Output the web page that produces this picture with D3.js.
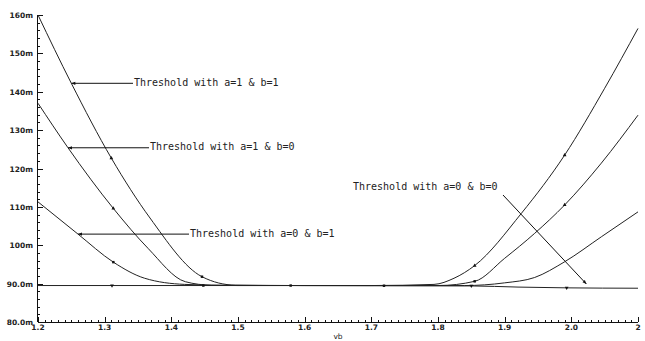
<!DOCTYPE html>
<html>
<head>
<meta charset="utf-8">
<script src="https://cdn.jsdelivr.net/npm/d3@7"></script>
<style>
  body { margin: 0; background: #fff; }
  svg { display: block; }
  .tick-label { font-family: "DejaVu Sans", sans-serif; font-size: 7.5px; font-weight: bold; fill: #222; }
  .note { font-family: "DejaVu Sans Mono", monospace; font-size: 10px; fill: #222; }
</style>
</head>
<body>
<svg id="chart" width="645" height="341"></svg>
<script>
// threshold curves (vb in V, threshold in mV)
var xA = [1.2, 1.25, 1.31, 1.368, 1.446, 1.496, 1.6, 1.7, 1.794, 1.824, 1.855, 1.925, 1.99, 2.05, 2.1];
var yA = [160, 142.2, 122.7, 107.1, 91.8, 89.6, 89.5, 89.5, 89.8, 91.4, 94.7, 108.3, 123.5, 140.9, 156.5];

var xB = [1.2, 1.245, 1.313, 1.365, 1.421, 1.46, 1.6, 1.7, 1.8, 1.855, 1.9, 1.945, 1.99, 2.045, 2.1];
var yB = [137.0, 125.4, 109.6, 99.2, 90.5, 89.6, 89.5, 89.5, 89.5, 90.6, 96.6, 103.1, 110.5, 121.4, 133.9];

var xC = [1.2, 1.26, 1.313, 1.36, 1.42, 1.5, 1.7, 1.84, 1.9, 1.945, 1.99, 2.045, 2.1];
var yC = [111.3, 102.9, 95.6, 91.4, 89.8, 89.5, 89.5, 89.5, 90.2, 91.6, 95.7, 102.2, 108.7];

var xD = [1.2, 1.311, 1.448, 1.579, 1.719, 1.85, 1.92, 1.993, 2.1];
var yD = [89.5, 89.5, 89.5, 89.5, 89.45, 89.4, 89.1, 88.9, 88.8];

// marker indices and shapes on each curve
var markA = [[2, "tri"], [4, "sq"], [10, "tri"], [12, "tri"]];
var markB = [[2, "tri"], [9, "sq"], [12, "tri"]];
var markC = [[2, "sq"]];
var markD = [[1, "trid"], [2, "sq"], [3, "sq"], [4, "sq"], [5, "trid"], [7, "trid"]];

var xTicks = [1.2, 1.3, 1.4, 1.5, 1.6, 1.7, 1.8, 1.9, 2.0, 2.1];
var xTickLabels = ["1.2", "1.3", "1.4", "1.5", "1.6", "1.7", "1.8", "1.9", "2.0", "2"];
var yTicks = [80, 90, 100, 110, 120, 130, 140, 150, 160];
var yTickLabels = ["80.0m", "90.0m", "100m", "110m", "120m", "130m", "140m", "150m", "160m"];

var noteTexts = ["Threshold with a=1 & b=1", "Threshold with a=1 & b=0", "Threshold with a=0 & b=1", "Threshold with a=0 & b=0"];

var svg = d3.select("#chart");
var x = d3.scaleLinear().domain([1.2, 2.1]).range([38, 638]);
var y = d3.scaleLinear().domain([80, 160]).range([322, 15]);

var series = [
  {xs: xA, ys: yA, marks: markA},
  {xs: xB, ys: yB, marks: markB},
  {xs: xC, ys: yC, marks: markC},
  {xs: xD, ys: yD, marks: markD}
];

// axes
var axisG = svg.append("g").attr("stroke", "#111").attr("stroke-width", 1).attr("shape-rendering", "crispEdges");
axisG.append("line").attr("x1", x(1.2)).attr("x2", x(2.1)).attr("y1", y(80) + 0.5).attr("y2", y(80) + 0.5);
axisG.append("line").attr("x1", x(1.2) - 0.5).attr("x2", x(1.2) - 0.5).attr("y1", y(160)).attr("y2", y(80));

var minorX = d3.range(0, 91).map(function(i) { return 1.2 + i * 0.01; });
axisG.selectAll(".mx").data(minorX).enter().append("line")
  .attr("x1", function(d) { return Math.round(x(d)) + 0.5; })
  .attr("x2", function(d) { return Math.round(x(d)) + 0.5; })
  .attr("y1", y(80)).attr("y2", function(d, i) { return y(80) - (i % 10 == 0 ? 5 : 2); });

var minorY = d3.range(0, 41).map(function(i) { return 80 + i * 2; });
axisG.selectAll(".my").data(minorY).enter().append("line")
  .attr("y1", function(d) { return Math.round(y(d)) + 0.5; })
  .attr("y2", function(d) { return Math.round(y(d)) + 0.5; })
  .attr("x1", x(1.2)).attr("x2", function(d, i) { return x(1.2) + (i % 5 == 0 ? 5 : 2); });

svg.selectAll(".xl").data(xTicks).enter().append("text")
  .attr("class", "tick-label")
  .attr("x", function(d) { return x(d); })
  .attr("y", 330)
  .attr("text-anchor", "middle")
  .text(function(d, i) { return xTickLabels[i]; });

svg.selectAll(".yl").data(yTicks).enter().append("text")
  .attr("class", "tick-label")
  .attr("x", 33)
  .attr("y", function(d) { return y(d) + 3; })
  .attr("text-anchor", "end")
  .text(function(d, i) { return yTickLabels[i]; });

svg.append("text").attr("class", "tick-label").attr("x", x(1.65)).attr("y", 339)
  .attr("text-anchor", "middle").style("font-weight", "normal").text("vb");

// curves
var line = d3.line()
  .x(function(d) { return x(d[0]); })
  .y(function(d) { return y(d[1]); })
  .curve(d3.curveMonotoneX);

series.forEach(function(s) {
  var pts = s.xs.map(function(v, i) { return [v, s.ys[i]]; });
  svg.append("path").datum(pts)
    .attr("d", line)
    .attr("fill", "none")
    .attr("stroke", "#222")
    .attr("stroke-width", 1);

  svg.selectAll(null).data(s.marks).enter().append("path")
    .attr("transform", function(m) {
      var rot = m[1] == "trid" ? 180 : 0;
      return "translate(" + x(s.xs[m[0]]) + "," + y(s.ys[m[0]]) + ") rotate(" + rot + ")";
    })
    .attr("d", function(m) {
      var t = m[1] == "sq" ? d3.symbolSquare : d3.symbolTriangle;
      return d3.symbol().type(t).size(m[1] == "sq" ? 6 : 6)();
    })
    .attr("fill", "#111");
});

// annotations: arrow tip on a curve point, text at a layout position
var notes = [
  {s: 0, i: 1, tx: 134, ty: null},
  {s: 1, i: 1, tx: 150, ty: null},
  {s: 2, i: 1, tx: 190, ty: null},
  {s: 3, px: 2.0226, py: 89.9, tx: 353, ty: 190, lx: 503, ly: 195}
];

var noteG = svg.append("g");
notes.forEach(function(n, k) {
  var tipX, tipY, fromX, fromY, textY;
  if (n.ty === null) {
    tipX = x(series[n.s].xs[n.i]);
    tipY = y(series[n.s].ys[n.i]);
    fromX = n.tx - 1;
    fromY = tipY;
    textY = tipY + 2.5;
  } else {
    tipX = x(n.px);
    tipY = y(n.py);
    fromX = n.lx;
    fromY = n.ly;
    textY = n.ty;
  }
  noteG.append("line")
    .attr("x1", fromX).attr("y1", fromY)
    .attr("x2", tipX).attr("y2", tipY)
    .attr("stroke", "#111").attr("stroke-width", 1);
  var ang = Math.atan2(tipY - fromY, tipX - fromX) * 180 / Math.PI;
  noteG.append("path")
    .attr("d", "M0,0L-4,-1.6L-4,1.6Z")
    .attr("transform", "translate(" + tipX + "," + tipY + ") rotate(" + ang + ")")
    .attr("fill", "#111");
  noteG.append("text")
    .attr("class", "note")
    .attr("x", n.tx)
    .attr("y", textY)
    .text(noteTexts[k]);
});
</script>
</body>
</html>
